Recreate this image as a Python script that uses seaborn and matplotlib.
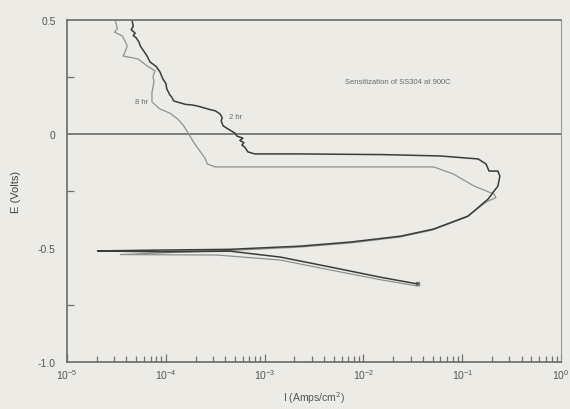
import numpy as np
import pandas as pd
import matplotlib
matplotlib.use("Agg")
import matplotlib.pyplot as plt
import seaborn as sns
from matplotlib.ticker import FixedLocator, LogLocator, NullFormatter

sns.set_theme(style="white")
plt.rcParams['font.family'] = ['Liberation Sans', 'DejaVu Sans']

# ---- data: log10(current density, A/cm2) and potential (V) ----
hr2_logI = [-4.34, -4.33, -4.35, -4.31, -4.33, -4.30, -4.27, -4.26, -4.22, -4.19, -4.16, -4.10, -4.08, -4.06,
            -4.03, -4.00, -3.99, -3.96, -3.94, -3.92, -3.80, -3.74, -3.68, -3.55, -3.50, -3.45, -3.43, -3.44, -3.42,
            -3.35, -3.30, -3.28, -3.22, -3.25, -3.21, -3.23, -3.20, -3.17, -3.10,
            -2.64, -1.80, -1.22, -0.84, -0.76, -0.73, -0.64, -0.62, -0.64, -0.74,
            -0.94, -1.29, -1.62, -2.13, -2.64, -3.35, -4.19, -4.69,
            -4.06, -3.35, -2.84, -2.33, -1.83, -1.45]
hr2_E = [0.494, 0.470, 0.455, 0.440, 0.430, 0.420, 0.400, 0.385, 0.360, 0.340, 0.314, 0.295, 0.283, 0.271,
         0.240, 0.220, 0.196, 0.170, 0.160, 0.143, 0.128, 0.126, 0.121, 0.105, 0.100, 0.086, 0.070, 0.055, 0.034,
         0.015, 0.002, -0.011, -0.020, -0.030, -0.040, -0.050, -0.060, -0.080, -0.089,
         -0.089, -0.092, -0.098, -0.111, -0.133, -0.164, -0.164, -0.186, -0.230, -0.287,
         -0.361, -0.418, -0.449, -0.475, -0.493, -0.507, -0.511, -0.514,
         -0.518, -0.515, -0.541, -0.585, -0.629, -0.659]

hr8_logI = [-4.51, -4.49, -4.52, -4.44, -4.39, -4.43, -4.28, -4.19, -4.11, -4.13, -4.12, -4.14,
            -4.14, -4.06, -3.96, -3.88, -3.82, -3.78, -3.72, -3.65, -3.60, -3.58, -3.50,
            -2.50, -1.29, -1.09, -0.88, -0.68,
            -0.66, -0.76, -0.96, -1.30, -1.63, -2.13, -2.64, -3.35, -3.90, -4.46,
            -3.48, -2.84, -2.33, -1.83, -1.45]
hr8_E = [0.494, 0.459, 0.445, 0.428, 0.384, 0.340, 0.327, 0.297, 0.275, 0.250, 0.227, 0.180,
         0.139, 0.108, 0.090, 0.064, 0.035, 0.007, -0.037, -0.080, -0.110, -0.133, -0.146,
         -0.146, -0.146, -0.177, -0.230, -0.265,
         -0.280, -0.300, -0.366, -0.422, -0.453, -0.479, -0.497, -0.512, -0.520, -0.530,
         -0.532, -0.554, -0.598, -0.640, -0.668]

y_ticks = [-1.0, -0.5, 0.0, 0.5]
y_ticklabels = ['-1.0', '-0.5', '0', '0.5']
y_minor = [-0.75, -0.25, 0.25]

df2 = pd.DataFrame({'I': np.power(10.0, hr2_logI), 'E': hr2_E})
df8 = pd.DataFrame({'I': np.power(10.0, hr8_logI), 'E': hr8_E})

bg = '#ecebe6'
fig = plt.figure(figsize=(5.7, 4.1), dpi=100, facecolor=bg)
ax = fig.add_axes([0.1175, 0.115, 0.867, 0.835])
ax.set_facecolor(bg)

ax.set_xscale('log')
sns.lineplot(data=df8, x='I', y='E', sort=False, estimator=None, ax=ax,
             color='#909090', linewidth=0.9)
sns.lineplot(data=df2, x='I', y='E', sort=False, estimator=None, ax=ax,
             color='#3b3b3b', linewidth=1.1)
sns.scatterplot(x=[df2['I'].iloc[-1]], y=[df2['E'].iloc[-1]], marker='s', s=10,
                color='#7a7a7a', edgecolor='#7a7a7a', ax=ax)

ax.axhline(0, color='#6a6a6a', linewidth=1.2, zorder=1)

ax.set_xlim(1e-5, 1e0)
ax.set_ylim(-1.0, 0.5)
ax.yaxis.set_major_locator(FixedLocator(y_ticks))
ax.set_yticklabels(y_ticklabels)
ax.yaxis.set_minor_locator(FixedLocator(y_minor))
ax.xaxis.set_major_locator(LogLocator(base=10, numticks=10))
ax.xaxis.set_minor_locator(LogLocator(base=10, subs=np.arange(2, 10), numticks=20))
ax.xaxis.set_minor_formatter(NullFormatter())

ax.tick_params(axis='both', which='both', direction='in', colors='#707070',
               labelcolor='#555555', labelsize=7.5, width=0.9)
ax.tick_params(axis='y', which='major', length=0, pad=8)
ax.tick_params(axis='y', which='minor', length=5, left=True)
ax.tick_params(axis='x', which='major', length=6, bottom=True, pad=4)
ax.tick_params(axis='x', which='minor', length=4, bottom=True)

for s in ax.spines.values():
    s.set_color('#6a6a6a')
    s.set_linewidth(1.2)
ax.spines['right'].set_linewidth(0.8)
ax.spines['right'].set_color('#9a9a9a')

ax.set_xlabel('I (Amps/cm$^2$)', fontsize=7.5, color='#555555', labelpad=6)
ax.set_ylabel('E (Volts)', fontsize=8, color='#444444', labelpad=12)

ax.text(10**-1.65, 0.23, 'Sensitization of SS304 at 900C', fontsize=5.5,
        color='#6a6a6a', ha='center', va='center')
ax.text(10**-4.18, 0.139, '8 hr', fontsize=5.5, color='#6a6a6a', ha='right', va='center')
ax.text(10**-3.36, 0.077, '2 hr', fontsize=5.5, color='#6a6a6a', ha='left', va='center')

fig.savefig('out.png', dpi=100, facecolor=bg)
